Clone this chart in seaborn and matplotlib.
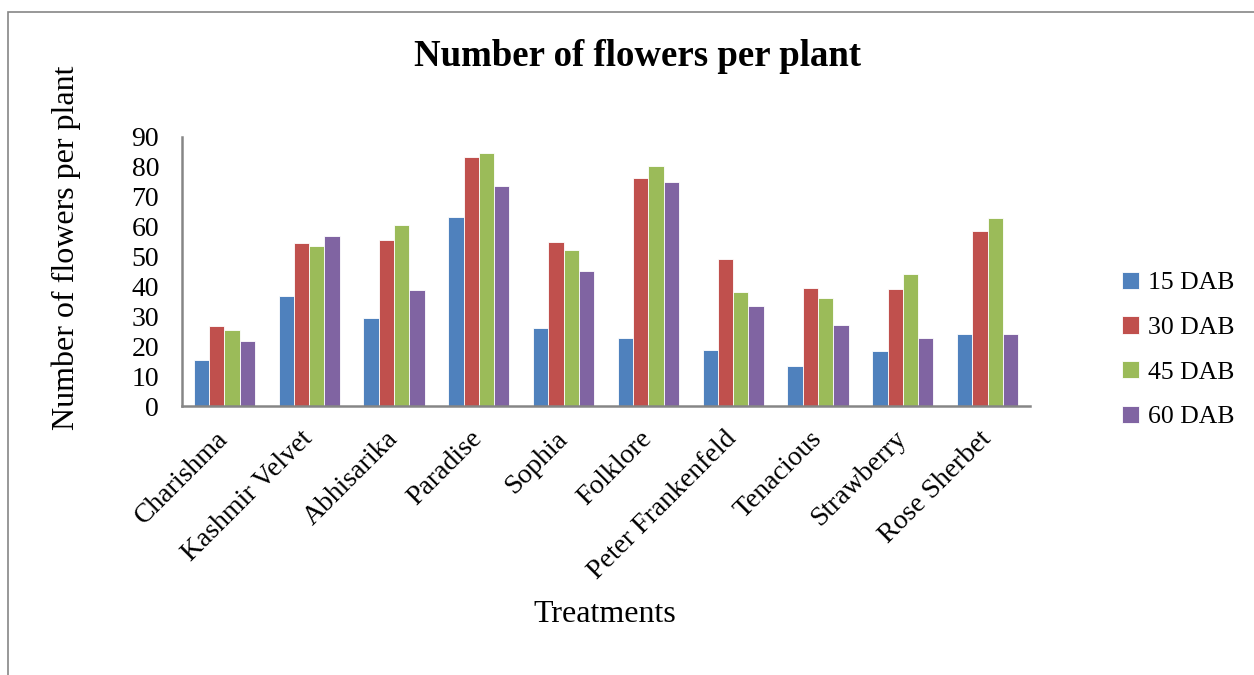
import matplotlib
matplotlib.use("Agg")
import matplotlib.pyplot as plt
from matplotlib.patches import Rectangle
import pandas as pd
import seaborn as sns

treatments = ["Charishma", "Kashmir Velvet", "Abhisarika", "Paradise", "Sophia",
              "Folklore", "Peter Frankenfeld", "Tenacious", "Strawberry", "Rose Sherbet"]
stages = ["15 DAB", "30 DAB", "45 DAB", "60 DAB"]
dab15 = [15.4, 36.9, 29.5, 63.4, 26.1, 22.8, 18.8, 13.4, 18.5, 24.2]
dab30 = [26.7, 54.5, 55.7, 83.2, 55.0, 76.2, 49.1, 39.6, 39.1, 58.7]
dab45 = [25.5, 53.4, 60.6, 84.6, 52.3, 80.2, 38.3, 36.1, 44.3, 63.0]
dab60 = [21.7, 56.8, 38.9, 73.5, 45.2, 75.1, 33.6, 27.2, 22.8, 24.2]
colors = ["#4F81BD", "#C0504D", "#9BBB59", "#8064A2"]

df = pd.DataFrame({
    "Treatment": treatments * 4,
    "Stage": [s for s in stages for _ in treatments],
    "Flowers": dab15 + dab30 + dab45 + dab60,
})

sns.set_theme(style="white")
plt.rcParams["font.family"] = ["Liberation Serif", "DejaVu Serif"]
plt.rcParams["text.color"] = "black"

fig = plt.figure(figsize=(12.54, 6.75), dpi=100)
ax = fig.add_axes([182 / 1254, 1 - 406 / 675, 848 / 1254, 269 / 675])

sns.barplot(data=df, x="Treatment", y="Flowers", hue="Stage", order=treatments,
            hue_order=stages, palette=colors, width=0.72, saturation=1,
            edgecolor="white", linewidth=0.6, ax=ax)

ax.set_xlim(-0.5, len(treatments) - 0.5)
ax.set_ylim(0, 90)
ax.set_yticks(range(0, 91, 10))
ax.tick_params(axis="y", labelsize=20, length=0, pad=16.5, labelcolor="black")
ax.tick_params(axis="x", labelsize=20, length=0, pad=21, labelcolor="black")
for lbl in ax.get_xticklabels():
    lbl.set_rotation(45)
    lbl.set_ha("right")
    lbl.set_va("center")
    lbl.set_rotation_mode("anchor")
ax.set_xlabel("")
ax.set_ylabel("")
for side in ("top", "right"):
    ax.spines[side].set_visible(False)
for side in ("left", "bottom"):
    ax.spines[side].set_color("#868686")
    ax.spines[side].set_linewidth(1.8)

leg = ax.legend(loc="center left", bbox_to_anchor=(1122 / 1254, 1 - 350 / 675),
                bbox_transform=fig.transFigure, frameon=False, fontsize=18.5,
                handlelength=0.65, handleheight=0.65, handletextpad=0.35,
                labelspacing=0.86, borderpad=0, borderaxespad=0)
for t in leg.get_texts():
    t.set_color("black")

fig.text(637 / 1254, 1 - 57 / 675, "Number of flowers per plant", ha="center",
         va="center", fontsize=26.5, fontweight="bold", color="black")
fig.text(66 / 1254, 1 - 248 / 675, "Number of flowers per plant", ha="center",
         va="center", rotation=90, fontsize=23, color="black")
fig.text(605 / 1254, 1 - 615 / 675, "Treatments", ha="center", va="center",
         fontsize=23, color="black")

fig.patches.append(Rectangle((8 / 1254, -0.1), 1.2, 1.1 - 12 / 675,
                             transform=fig.transFigure, fill=False,
                             edgecolor="#868686", linewidth=1.2))

fig.savefig("out.png", dpi=100)
